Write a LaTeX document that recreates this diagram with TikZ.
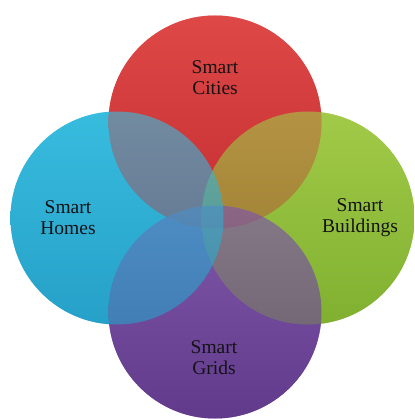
\documentclass[tikz,border=0pt]{standalone}
\usepackage{fontspec}
\setmainfont{Liberation Serif}
\definecolor{rtop}{RGB}{222,72,70}
\definecolor{rbot}{RGB}{196,46,50}
\definecolor{btop}{RGB}{55,188,222}
\definecolor{bbot}{RGB}{38,160,200}
\definecolor{gtop}{RGB}{162,202,72}
\definecolor{gbot}{RGB}{128,176,48}
\definecolor{ptop}{RGB}{128,88,170}
\definecolor{pbot}{RGB}{98,58,140}
\definecolor{txt}{RGB}{20,18,22}
\begin{document}
\begin{tikzpicture}[x=1pt,y=-1pt,
  lbl/.style={align=center,font=\fontsize{19.5}{21}\selectfont,text=txt,inner sep=0pt},
  redc/.style={top color=rtop,bottom color=rbot},
  bluec/.style={top color=btop,bottom color=bbot},
  greenc/.style={top color=gtop,bottom color=gbot},
  purplec/.style={top color=ptop,bottom color=pbot}]
\useasboundingbox[fill=white] (0,0) rectangle (414,419);
\def\R{106.5}
\coordinate (cC) at (215,122);
\coordinate (cH) at (117,218);
\coordinate (cB) at (308,218);
\coordinate (cG) at (215,312);
% opaque base, reverse order
\shade[bluec] (cH) circle[radius=\R];
\shade[purplec] (cG) circle[radius=\R];
\shade[greenc] (cB) circle[radius=\R];
\shade[redc] (cC) circle[radius=\R];
% translucent layer
\begin{scope}[fill opacity=0.62]
\shade[redc] (cC) circle[radius=\R];
\shade[greenc] (cB) circle[radius=\R];
\shade[purplec,fill opacity=0.68] (cG) circle[radius=\R];
\shade[bluec] (cH) circle[radius=\R];
\end{scope}
\node[lbl] (cities) at (215,78) {Smart\\Cities};
\node[lbl] (homes) at (68,218) {Smart\\Homes};
\node[lbl] (buildings) at (360,218) {Smart\\Buildings};
\node[lbl] (grids) at (214,358) {Smart\\Grids};
\end{tikzpicture}
\end{document}
